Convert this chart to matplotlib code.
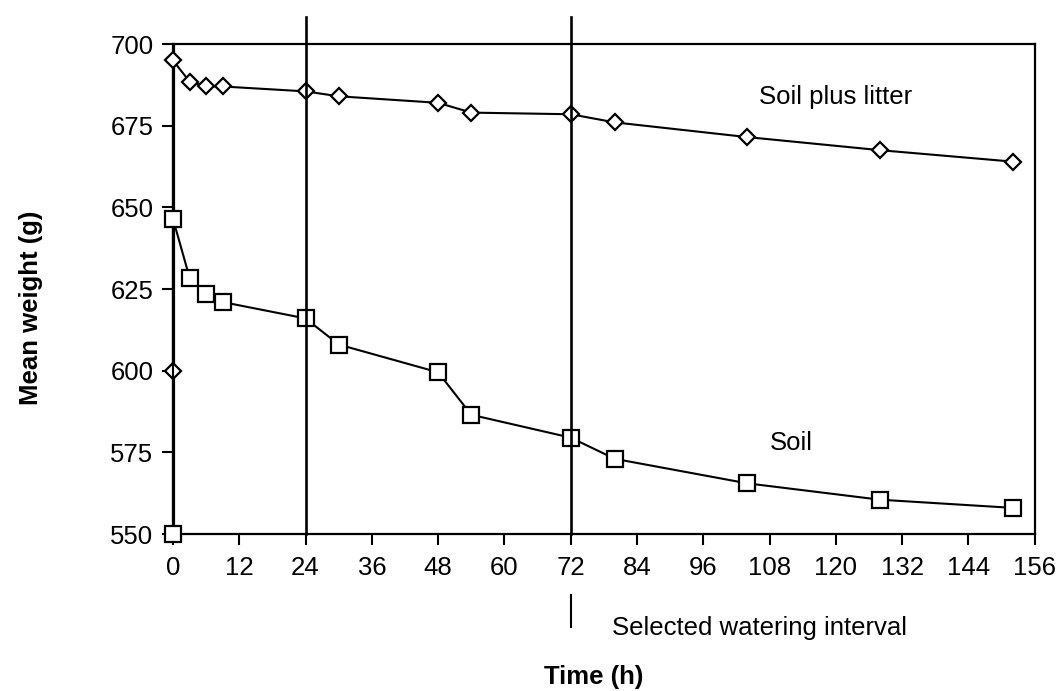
import matplotlib
matplotlib.use("Agg")
import matplotlib.pyplot as plt
import matplotlib.transforms as mtransforms

plt.rcParams['font.family'] = ['Liberation Sans', 'DejaVu Sans']

# Data
hours_litter = [0, 0, 3, 6, 9, 24, 30, 48, 54, 72, 80, 104, 128, 152]
soil_plus_litter = [600, 695, 688.5, 687, 687, 685.5, 684, 682, 679, 678.5, 676, 671.5, 667.5, 664]

hours_soil = [0, 0, 3, 6, 9, 24, 30, 48, 54, 72, 80, 104, 128, 152]
soil = [550, 646.5, 628.5, 623.5, 621, 616, 608, 599.5, 586.5, 579.5, 573, 565.5, 560.5, 558]

x_ticks = list(range(0, 157, 12))
y_ticks = [550, 575, 600, 625, 650, 675, 700]
marker_hours = [24, 72]
selected_interval = 72

series_labels = ["Soil plus litter", "Soil"]
x_label = "Time (h)"
y_label = "Mean weight (g)"
note = "Selected watering interval"

fig = plt.figure(figsize=(10.58, 6.91), dpi=100)
ax = fig.add_axes([0.1635, 0.2272, 0.8145, 0.7091])

ax.plot(hours_litter, soil_plus_litter, color='black', lw=1.5, marker='D', ms=8.5,
        mfc='white', mec='black', mew=1.6, clip_on=False, zorder=3)
ax.plot(hours_soil, soil, color='black', lw=1.5, marker='s', ms=11,
        mfc='white', mec='black', mew=1.6, clip_on=False, zorder=3)

for h in marker_hours:
    ax.axvline(h, ymin=0, ymax=1.055, color='black', lw=1.9, clip_on=False, zorder=4)

ax.set_xlim(0, 156)
ax.set_ylim(550, 700)
ax.set_xticks(x_ticks)
ax.set_yticks(y_ticks)
ax.tick_params(axis='both', direction='out', length=8, width=1.5, labelsize=18.5, color='black')
ax.tick_params(axis='x', pad=8)
ax.tick_params(axis='y', pad=6)
for s in ax.spines.values():
    s.set_linewidth(1.6)
ax.spines['left'].set_linewidth(2.3)

ax.text(120, 683.8, series_labels[0], fontsize=18.5, ha='center', va='center')
ax.text(112, 577.9, series_labels[1], fontsize=18.5, ha='center', va='center')

trans = mtransforms.blended_transform_factory(ax.transData, ax.transAxes)
ax.plot([selected_interval, selected_interval], [-0.125, -0.19], transform=trans,
        color='black', lw=1.5, clip_on=False)
ax.text(0.510, -0.192, note, transform=ax.transAxes, fontsize=18.5, ha='left', va='center')

ax.set_xlabel(x_label, fontsize=18.5, fontweight='bold')
ax.set_ylabel(y_label, fontsize=18.5, fontweight='bold')
ax.xaxis.set_label_coords(0.488, -0.267)
ax.yaxis.set_label_coords(-0.151, 0.461)

fig.savefig("out.png", dpi=100)
